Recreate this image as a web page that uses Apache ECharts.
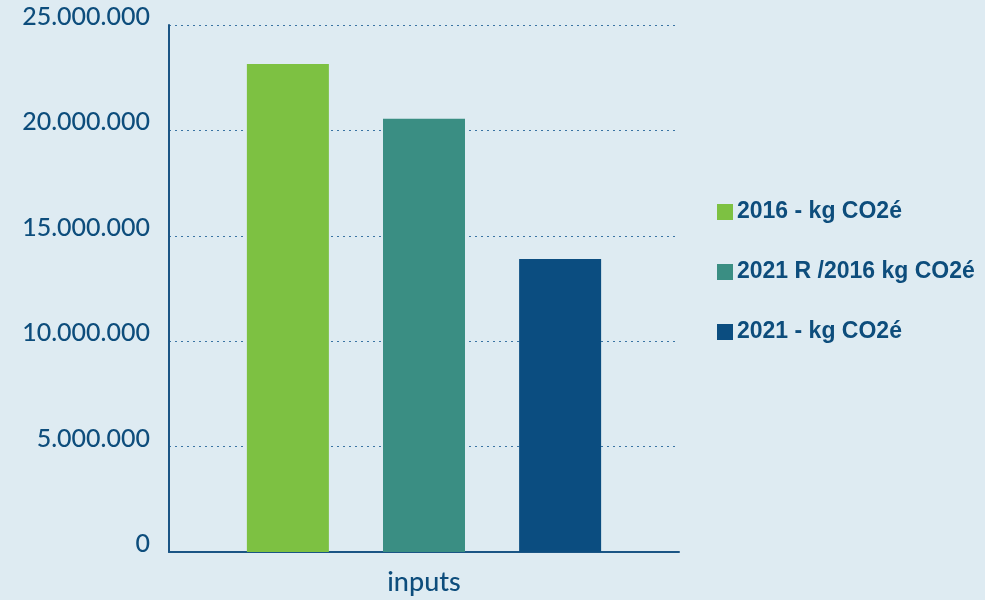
<!DOCTYPE html>
<html>
<head>
<meta charset="utf-8">
<script src="https://cdn.jsdelivr.net/npm/echarts@6/dist/echarts.min.js"></script>
<style>
  html, body { margin: 0; padding: 0; background: #deebf2; }
  #chart { width: 985px; height: 600px; }
</style>
</head>
<body>
<div id="chart"></div>
<script>
// data
const categories = ['inputs'];
const seriesNames = ['2016 - kg CO2é', '2021 R /2016 kg CO2é', '2021 - kg CO2é'];
const values2016 = [23150000];
const values2021R = [20550000];
const values2021 = [13900000];
const yTicks = [0, 5000000, 10000000, 15000000, 20000000, 25000000];

const colors = ['#7dc142', '#3a8e83', '#0b4d80'];
const textColor = '#0d4d7c';

// 25000000 -> "25.000.000"
function fmt(v) {
  return String(v).replace(/\B(?=(\d{3})+(?!\d))/g, '.');
}

const myChart = echarts.init(document.getElementById('chart'));

const seriesData = [values2016, values2021R, values2021];

const option = {
  backgroundColor: '#deebf2',
  color: colors,
  animation: false,
  grid: { left: 169, right: 306, top: 25, bottom: 48, containLabel: false },
  legend: {
    orient: 'vertical',
    left: 712,
    top: 195,
    itemWidth: 16,
    itemHeight: 16,
    itemGap: 36,
    icon: 'rect',
    data: seriesNames,
    textStyle: {
      color: textColor,
      fontSize: 23,
      fontWeight: 'bold',
      fontFamily: 'Liberation Sans',
      lineHeight: 24,
      padding: [0, 0, 0, -1]
    }
  },
  xAxis: {
    type: 'category',
    data: categories,
    axisLine: { lineStyle: { color: '#1a5585', width: 2 } },
    axisTick: { show: false },
    axisLabel: {
      color: textColor,
      fontSize: 27,
      fontFamily: 'Lato, sans-serif',
      fontWeight: 500,
      margin: 17
    }
  },
  yAxis: {
    type: 'value',
    min: yTicks[0],
    max: yTicks[yTicks.length - 1],
    interval: yTicks[1] - yTicks[0],
    axisLine: { show: true, lineStyle: { color: '#1a5585', width: 2 } },
    axisTick: { show: false },
    splitLine: { lineStyle: { color: '#3a74a3', type: [2, 4], width: 1.2 } },
    axisLabel: {
      color: textColor,
      fontSize: 25,
      fontFamily: 'Lato, sans-serif',
      fontWeight: 500,
      margin: 19,
      verticalAlign: 'bottom',
      lineHeight: 16,
      formatter: fmt
    }
  },
  series: seriesNames.map((name, i) => ({
    name: name,
    type: 'bar',
    data: seriesData[i],
    barWidth: 82,
    barGap: '66%',
    itemStyle: { color: colors[i] }
  }))
};

myChart.setOption(option);
</script>
</body>
</html>
